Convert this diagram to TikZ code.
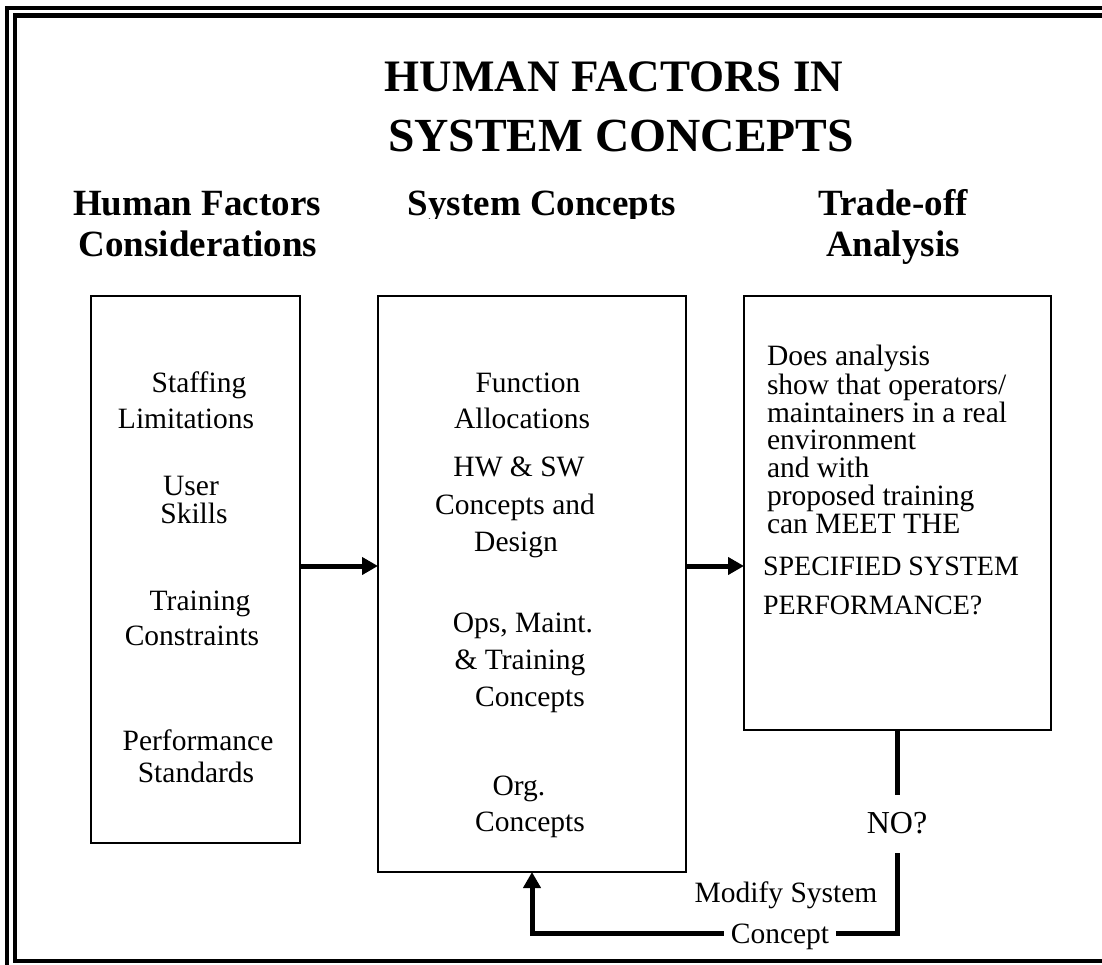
\documentclass[tikz,border=0pt]{standalone}
\usepackage{fontspec}
\setmainfont{Liberation Serif}
\usetikzlibrary{arrows.meta}
\begin{document}
\begin{tikzpicture}[x=1pt,y=-1pt,
  every node/.style={inner sep=0pt, outer sep=0pt},
  body/.style={font=\fontsize{29.5}{31}\selectfont, anchor=base},
  bodyl/.style={font=\fontsize{29.5}{31}\selectfont, anchor=base west},
  bodys/.style={font=\fontsize{28}{31}\selectfont, anchor=base west},
  hdr/.style={font=\fontsize{37}{41}\selectfont\bfseries, anchor=base},
  ttl/.style={font=\fontsize{45}{50}\selectfont\bfseries, anchor=base},
  box/.style={draw, line width=1.8pt, inner sep=0pt},
  thk/.style={line width=5pt, line join=miter},
  arr/.style={thk, -{Triangle[length=16pt,width=17pt]}},
  frame/.style={line width=4.5pt}
]
\useasboundingbox (0,0) rectangle (1102,965);
\clip (0,0) rectangle (1102,965);
% double frame
\draw[frame] (7,8) rectangle (1120,990);
\draw[frame] (15,15.5) rectangle (1112,961);

% title
\node[ttl] (t1) at (614,92) {HUMAN FACTORS IN};
\node[ttl, font=\fontsize{47.5}{50}\selectfont\bfseries] (t2) at (621,152) {SYSTEM CONCEPTS};

% column headers
\node[hdr] (h1a) at (197,216) {Human Factors};
\node[hdr] (h1b) at (198,257) {Considerations};
\begin{scope}
  \clip (380,150) rectangle (720,219);
  \node[hdr] (h2) at (542,216) {System Concepts};
\end{scope}
\node[hdr] (h3a) at (893,216) {Trade-off};
\node[hdr] (h3b) at (893,257) {Analysis};

% boxes
\node[box, minimum width=209pt, minimum height=547pt] (hf) at (195.5,569.5) {};
\node[box, minimum width=308pt, minimum height=576pt] (sc) at (532,584) {};
\node[box, minimum width=307pt, minimum height=434pt] (ta) at (897.5,513) {};

% left box text
\node[body] (l1) at (199,392) {Staffing};
\node[body] (l2) at (186,428) {Limitations};
\node[body] (l3) at (191,495) {User};
\node[body] (l4) at (194,523) {Skills};
\node[body] (l5) at (200,610) {Training};
\node[body] (l6) at (192,645) {Constraints};
\node[body] (l7) at (198,750) {Performance};
\node[body] (l8) at (196,782) {Standards};

% middle box text
\node[body] (m1) at (528,392) {Function};
\node[body] (m2) at (522,428) {Allocations};
\node[body] (m3) at (519,476) {HW \& SW};
\node[body] (m4) at (515,514) {Concepts and};
\node[body] (m5) at (516,551) {Design};
\node[body] (m6) at (523,632) {Ops, Maint.};
\node[body] (m7) at (520,669) {\& Training};
\node[body] (m8) at (530,706) {Concepts};
\node[body] (m9) at (519,795) {Org.};
\node[body] (m10) at (530,831) {Concepts};

% right box text
\node[bodyl] (r1) at (767,365) {Does analysis};
\node[bodyl] (r2) at (767,394) {show that operators/};
\node[bodyl] (r3) at (767,422) {maintainers in a real};
\node[bodyl] (r4) at (767,449) {environment};
\node[bodyl] (r5) at (767,477) {and with};
\node[bodyl] (r6) at (767,505) {proposed training};
\node[bodyl] (r7) at (767,533) {can MEET THE};
\node[bodys] (r8) at (763,575) {SPECIFIED SYSTEM};
\node[bodys] (r9) at (763,614) {PERFORMANCE?};

% forward arrows
\coordinate (ay) at (0,566);
\draw[arr] (hf.east |- ay) -- (sc.west |- ay);
\draw[arr] (sc.east |- ay) -- (ta.west |- ay);

% feedback loop
\node[body, font=\fontsize{32}{34}\selectfont] (no) at (897,833) {NO?};
\coordinate (n1) at (897.5,795);
\draw[thk] (ta.south) -- (n1);
\node[body] (mod) at (786,902) {Modify System};
\node[body, inner xsep=7pt] (con) at (780,943) {Concept};
\coordinate (b1) at (897.5,853);
\coordinate (b2) at (897.5,933);
\coordinate (b3) at (532,933);
\draw[thk] (b1) -- (b2) -- (b2 -| con.east);
\draw[arr] (b3 -| con.west) -- (b3) -- (sc.south);
\end{tikzpicture}
\end{document}
